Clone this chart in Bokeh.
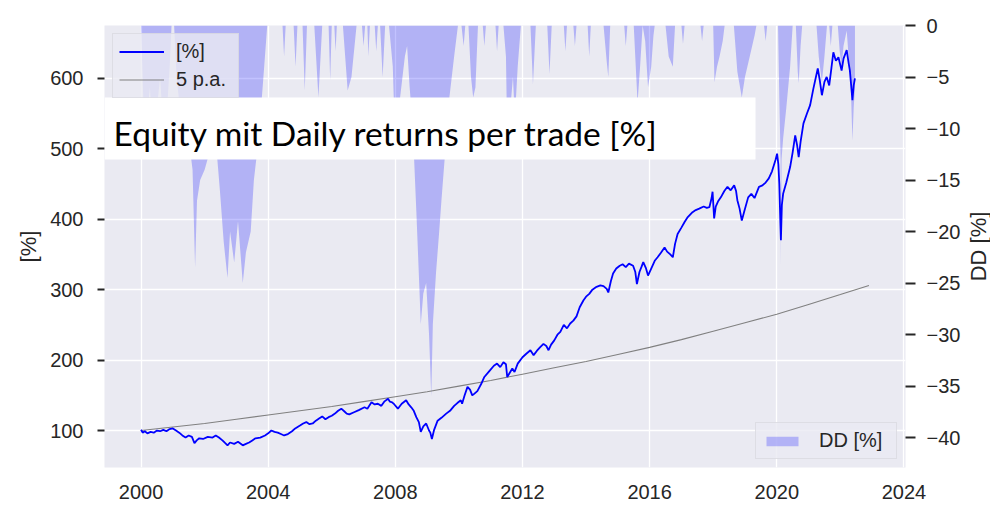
from bokeh.plotting import figure
from bokeh.layouts import row
from bokeh.models import (Range1d, LinearAxis, FixedTicker, Legend, LegendItem,
                          BoxAnnotation, Label)
from bokeh.embed import file_html
from bokeh.resources import INLINE

# ---------------- data ----------------
eq_years = [
    2000.00, 2000.05, 2000.12, 2000.20, 2000.30, 2000.40, 2000.50, 2000.60, 2000.70, 2000.80,
    2000.90, 2001.00, 2001.10, 2001.20, 2001.30, 2001.40, 2001.50, 2001.60, 2001.68, 2001.75,
    2001.83, 2001.95, 2002.10, 2002.25, 2002.35, 2002.45, 2002.56, 2002.65, 2002.72, 2002.80,
    2002.93, 2003.05, 2003.20, 2003.30, 2003.40, 2003.50, 2003.60, 2003.75, 2003.90, 2004.00,
    2004.10, 2004.20, 2004.30, 2004.40, 2004.50, 2004.62, 2004.75, 2004.85, 2005.00, 2005.10,
    2005.20, 2005.30, 2005.40, 2005.50, 2005.60, 2005.70, 2005.80, 2005.90, 2006.00, 2006.10,
    2006.20, 2006.30, 2006.40, 2006.47, 2006.55, 2006.70, 2006.85, 2007.03, 2007.12, 2007.25,
    2007.35, 2007.45, 2007.56, 2007.65, 2007.77, 2007.83, 2007.90, 2007.97, 2008.08, 2008.20,
    2008.34, 2008.42, 2008.50, 2008.58, 2008.66, 2008.74, 2008.80, 2008.88, 2008.97, 2009.06,
    2009.10, 2009.15, 2009.22, 2009.33, 2009.45, 2009.60, 2009.72, 2009.85, 2009.95, 2010.06,
    2010.10, 2010.18, 2010.27, 2010.35, 2010.42, 2010.48, 2010.58, 2010.70, 2010.80, 2010.95,
    2011.10, 2011.20, 2011.30, 2011.40, 2011.48, 2011.52, 2011.60, 2011.68, 2011.75, 2011.85,
    2012.00, 2012.12, 2012.25, 2012.35, 2012.45, 2012.55, 2012.66, 2012.75, 2012.82, 2012.90,
    2013.00, 2013.10, 2013.19, 2013.30, 2013.40, 2013.50, 2013.60, 2013.70, 2013.80, 2013.92,
    2014.00, 2014.10, 2014.20, 2014.33, 2014.45, 2014.55, 2014.65, 2014.70, 2014.78, 2014.85,
    2014.95, 2015.06, 2015.15, 2015.25, 2015.35, 2015.48, 2015.55, 2015.60, 2015.68, 2015.75,
    2015.80, 2015.88, 2015.95, 2016.05, 2016.16, 2016.25, 2016.35, 2016.47, 2016.55, 2016.65,
    2016.73, 2016.80, 2016.88, 2017.00, 2017.10, 2017.20, 2017.35, 2017.45, 2017.56, 2017.70,
    2017.80, 2017.88, 2017.95, 2017.98, 2018.03, 2018.08, 2018.15, 2018.24, 2018.35, 2018.45,
    2018.55, 2018.66, 2018.72, 2018.76, 2018.83, 2018.90, 2018.97, 2019.10, 2019.20, 2019.30,
    2019.44, 2019.55, 2019.65, 2019.75, 2019.85, 2019.96, 2020.01, 2020.05, 2020.08, 2020.11,
    2020.13, 2020.16, 2020.20, 2020.30, 2020.42, 2020.50, 2020.58, 2020.64, 2020.69, 2020.75,
    2020.84, 2020.95, 2021.05, 2021.15, 2021.29, 2021.35, 2021.42, 2021.50, 2021.57, 2021.65,
    2021.72, 2021.78, 2021.86, 2021.94, 2022.04, 2022.10, 2022.20, 2022.26, 2022.30, 2022.35,
    2022.38, 2022.42, 2022.46,
]
eq_values = [
    101, 97, 99, 96, 98, 97, 100, 99, 101, 99,
    102, 103, 100, 97, 93, 90, 93, 91, 82, 86,
    89, 88, 91, 90, 93, 90, 86, 82, 79, 83,
    81, 84, 79, 81, 83, 86, 89, 90, 93, 96,
    100, 98, 97, 95, 93, 95, 99, 103, 107, 110,
    112, 109, 110, 114, 117, 120, 116, 119, 121, 124,
    128, 131, 127, 124, 123, 126, 129, 133, 131, 140,
    137, 138, 135, 141, 145, 141, 140, 137, 131, 138,
    143, 137, 133, 128, 119, 112, 98, 106, 110, 100,
    97, 88, 101, 114, 118, 124, 128, 135, 139, 143,
    138, 150, 162, 158, 150, 152, 156, 166, 176, 184,
    192, 195, 190, 197, 194, 176, 182, 188, 183, 195,
    204, 209, 214, 207, 213, 218, 223, 220, 214, 222,
    228, 236, 240, 250, 245, 252, 256, 262, 275, 285,
    290, 294, 300, 304, 306, 305, 301, 296, 312, 323,
    330, 334, 336, 332, 337, 334, 325, 308, 325, 333,
    339, 331, 320, 330, 341, 346, 352, 360, 354, 350,
    346, 365, 379, 388, 396, 403, 410, 413, 415, 418,
    416, 417, 430, 439, 401, 418, 425, 431, 440, 446,
    441, 448, 440, 427, 415, 398, 410, 431, 436, 430,
    446, 448, 452, 458, 468, 484, 493, 478, 450, 400,
    370, 420, 436, 452, 474, 495, 519, 505, 488, 510,
    536, 550, 562, 585, 614, 598, 576, 595, 602, 590,
    615, 637, 625, 630, 611, 628, 640, 622, 611, 585,
    569, 590, 600,
]

pa_years = [2000, 2001, 2002, 2003, 2004, 2005, 2006, 2007, 2008, 2009, 2010, 2011,
            2012, 2013, 2014, 2015, 2016, 2017, 2018, 2019, 2020, 2021, 2022, 2022.9]
pa_values = [100, 105, 110, 116, 122, 128, 134, 141, 148, 155, 163, 171,
             180, 189, 198, 208, 218, 229, 241, 253, 265, 279, 293, 306]

dd_years = [
    2000.00, 2000.03, 2000.08, 2000.18, 2000.28, 2000.33, 2000.50, 2000.60, 2000.66, 2000.80,
    2000.90, 2000.96, 2001.04, 2001.12, 2001.22, 2001.35, 2001.50, 2001.62, 2001.70, 2001.76,
    2001.86, 2002.00, 2002.18, 2002.32, 2002.48, 2002.60, 2002.72, 2002.80, 2002.93, 2003.05,
    2003.20, 2003.30, 2003.45, 2003.55, 2003.70, 2003.85, 2003.97,
    2004.45, 2004.50, 2004.55, 2004.80, 2004.86, 2004.92, 2005.08, 2005.15, 2005.22, 2005.45,
    2005.58, 2005.70, 2005.90, 2005.95, 2006.00,
    2006.08, 2006.12, 2006.16, 2006.35, 2006.50, 2006.62, 2006.78, 2006.95, 2007.00, 2007.05,
    2007.12, 2007.15, 2007.20, 2007.35, 2007.40, 2007.45, 2007.52, 2007.60, 2007.68, 2007.80,
    2007.92, 2007.97, 2008.05, 2008.15, 2008.30, 2008.37, 2008.45, 2008.55, 2008.66, 2008.75,
    2008.80, 2008.88, 2008.97, 2009.06, 2009.13, 2009.18, 2009.28, 2009.38, 2009.45, 2009.55,
    2009.70, 2009.85, 2009.97,
    2010.08, 2010.15, 2010.20, 2010.30, 2010.38, 2010.45, 2010.52, 2010.60, 2010.75, 2010.80,
    2010.85, 2011.15, 2011.20, 2011.25, 2011.40, 2011.48, 2011.52, 2011.62, 2011.70, 2011.76,
    2011.85, 2011.95, 2012.25, 2012.33, 2012.42, 2012.78, 2012.85, 2012.92, 2013.30, 2013.35,
    2013.40, 2013.60, 2013.65, 2013.70, 2014.05, 2014.10, 2014.15, 2014.55, 2014.65, 2014.70,
    2014.76, 2015.20, 2015.25, 2015.30, 2015.50, 2015.58, 2015.62, 2015.70, 2015.78, 2015.86,
    2015.95, 2016.05, 2016.12, 2016.16,
    2016.50, 2016.60, 2016.73, 2016.80, 2017.00, 2017.05, 2017.10, 2017.60, 2017.65, 2017.70,
    2018.00, 2018.04, 2018.12, 2018.20, 2018.30, 2018.36, 2018.65, 2018.76, 2018.90, 2019.00,
    2019.15, 2019.30, 2019.36, 2019.60, 2019.65, 2019.70, 2020.04, 2020.08, 2020.12, 2020.13,
    2020.15, 2020.20, 2020.30, 2020.42, 2020.50, 2020.60, 2020.66, 2020.69, 2020.75, 2020.80,
    2021.25, 2021.32, 2021.42, 2021.50, 2021.58, 2021.65, 2021.70, 2021.75, 2021.92, 2021.98,
    2022.04, 2022.10, 2022.20, 2022.26, 2022.32, 2022.38, 2022.42, 2022.46,
]
dd_values = [
    0, -3, -8, -9, -6, -9, -8, -5, -8, -9,
    -4, 0, 0, -5, -8, -12, -11, -14, -23.5, -17,
    -15, -14, -12, -10, -16, -21, -24.5, -20, -23, -19,
    -25, -22, -20, -15, -11, -5, 0,
    0, -3, 0, 0, -4, 0, 0, -6.3, 0, 0,
    -7, 0, 0, -5.3, 0,
    0, -2.5, 0, 0, -6.3, -5, 0, 0, -2, 0,
    0, -3, 0, 0, -2.5, 0, 0, -5, 0, 0,
    -4, -9, -11, -7, -3, -2, -6, -10, -18, -25,
    -29, -26, -25, -30, -36, -29, -24, -20, -17, -13,
    -7, -3, 0,
    0, -2, 0, 0, -5, -7, -6, 0, 0, -2,
    0, 0, -2.5, 0, 0, -3, -11, -8, -5, -9,
    -4, 0, 0, -5.7, 0, 0, -4.7, 0, 0, -2.5,
    0, 0, -2, 0, 0, -3, 0, 0, -3.5, -5,
    0, 0, -2, 0, 0, -5, -7.5, -4, 0, -1.5,
    -6, -4, -1, 0,
    0, -3, -4, 0, 0, -1.8, 0, 0, -1.5, 0,
    0, -5.5, -4, -3, -1.5, 0, 0, -4.5, -7, -5,
    -3, -1, 0, 0, -1.5, 0, 0, -7, -13, -23.5,
    -13, -11, -8, -4, 0, 0, -4.5, -5.6, -2, 0,
    0, -3, -5.5, -3, 0, 0, -2, 0, 0, -2.5,
    -4, -2, -0.5, -3, -5, -11.2, -8, -6,
]

x_ticks = [2000, 2004, 2008, 2012, 2016, 2020, 2024]
y_ticks = [100, 200, 300, 400, 500, 600]
dd_ticks = [0, -5, -10, -15, -20, -25, -30, -35, -40]

title_text = "Equity mit Daily returns per trade [%]"

# ---------------- figure ----------------
FONT = "Liberation Sans"
TXT = "#262626"
BG = "#EAEAF2"
TICK_FS = "20px"
LABEL_FS = "22px"

p = figure(width=963, height=505, output_backend="svg", toolbar_location=None,
           x_range=Range1d(1998.85, 2024.05), y_range=Range1d(47.5, 675),
           min_border_left=104, min_border_right=57, min_border_top=25, min_border_bottom=38)
p.extra_y_ranges = {"dd": Range1d(-42.9, 0)}
p.background_fill_color = BG
p.border_fill_color = "white"
p.outline_line_color = None

dd_r = p.varea(x=dd_years, y1=0, y2=dd_values, y_range_name="dd",
               fill_color="blue", fill_alpha=0.24)
pa_r = p.line(pa_years, pa_values, line_color="#808080", line_width=1.1)
eq_r = p.line(eq_years, eq_values, line_color="blue", line_width=1.8)

# grid
p.xgrid.ticker = FixedTicker(ticks=x_ticks)
p.ygrid.ticker = FixedTicker(ticks=y_ticks)
for g in (p.xgrid, p.ygrid):
    g.grid_line_color = "white"
    g.grid_line_width = 1.3

# x axis
xa = p.xaxis[0]
xa.ticker = FixedTicker(ticks=x_ticks)
xa.axis_line_color = None
xa.major_tick_line_color = None
xa.minor_tick_line_color = None
xa.major_label_standoff = 11
xa.major_label_text_font = FONT
xa.major_label_text_font_size = TICK_FS
xa.major_label_text_color = TXT

# left axis
ya = p.yaxis[0]
ya.ticker = FixedTicker(ticks=y_ticks)
ya.axis_line_color = None
ya.minor_tick_line_color = None
ya.major_tick_line_color = TXT
ya.major_tick_line_width = 2
ya.major_tick_in = 0
ya.major_tick_out = 7
ya.major_label_standoff = 14
ya.major_label_text_font = FONT
ya.major_label_text_font_size = TICK_FS
ya.major_label_text_color = TXT
ya.axis_label = "[%]"
ya.axis_label_text_font = FONT
ya.axis_label_text_font_size = LABEL_FS
ya.axis_label_text_font_style = "normal"
ya.axis_label_text_color = TXT
ya.axis_label_standoff = 6

# right axis (drawdown) - tick labels only
ra = LinearAxis(y_range_name="dd", ticker=FixedTicker(ticks=dd_ticks))
ra.major_label_overrides = {t: ("\u2212" + str(abs(t)) if t < 0 else str(t)) for t in dd_ticks}
ra.axis_line_color = None
ra.minor_tick_line_color = None
ra.major_tick_line_color = TXT
ra.major_tick_line_width = 2
ra.major_tick_in = 0
ra.major_tick_out = 10
ra.major_label_standoff = 11
ra.major_label_text_font = FONT
ra.major_label_text_font_size = TICK_FS
ra.major_label_text_color = TXT
p.add_layout(ra, "right")

# legends
common = dict(label_text_font=FONT, label_text_font_size=TICK_FS, label_text_color=TXT,
              background_fill_color=BG, background_fill_alpha=0.8,
              border_line_color="#cfcfd6", border_line_width=1.2, margin=8)
leg1 = Legend(items=[LegendItem(label="[%]", renderers=[eq_r]),
                     LegendItem(label="5 p.a.", renderers=[pa_r])],
              location="top_left", padding=6, spacing=5, glyph_width=45,
              glyph_height=23, label_height=23, label_standoff=12, label_width=56,
              **common)
leg2 = Legend(items=[LegendItem(label="DD [%]", renderers=[dd_r])],
              location="bottom_right", padding=6, spacing=0, glyph_width=40,
              glyph_height=12, label_height=23, label_standoff=17, label_width=71,
              **common)
p.add_layout(leg1)
p.add_layout(leg2)

# white title box over the chart
box = BoxAnnotation(left=0, right=651, top=370, bottom=308,
                    left_units="screen", right_units="screen",
                    top_units="screen", bottom_units="screen",
                    fill_color="white", fill_alpha=1.0, line_color=None)
p.add_layout(box)
title = Label(x=9, y=335, x_units="screen", y_units="screen", text=title_text,
              text_align="left", text_baseline="alphabetic",
              text_font="Lato", text_font_size="33.5px", text_color="black")
p.add_layout(title)

# narrow strip on the right that carries the "DD [%]" axis title (reads bottom-to-top)
p2 = figure(width=27, height=505, output_backend="svg", toolbar_location=None,
            x_range=Range1d(0, 1), y_range=Range1d(-42.9, 0),
            min_border_left=0, min_border_right=0, min_border_top=25, min_border_bottom=38)
p2.background_fill_color = "white"
p2.border_fill_color = "white"
p2.outline_line_color = None
p2.grid.visible = False
p2.xaxis.visible = False
ax2 = p2.yaxis[0]
ax2.ticker = FixedTicker(ticks=[])
ax2.axis_line_color = None
ax2.major_tick_line_color = None
ax2.minor_tick_line_color = None
ax2.major_tick_out = 0
ax2.major_tick_in = 0
ax2.major_label_standoff = 0
ax2.major_label_text_font_size = "0px"
ax2.axis_label = "DD [%]"
ax2.axis_label_text_font = FONT
ax2.axis_label_text_font_size = LABEL_FS
ax2.axis_label_text_font_style = "normal"
ax2.axis_label_text_color = TXT
ax2.axis_label_standoff = 0

layout = row(p, p2, spacing=0)
open("out.html", "w").write(file_html(layout, INLINE))
